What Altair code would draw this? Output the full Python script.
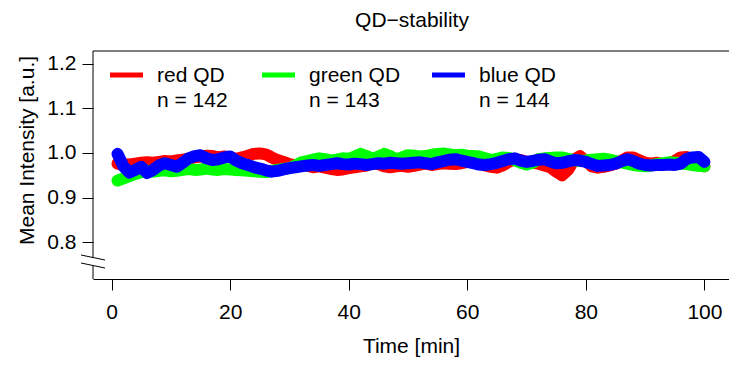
import altair as alt
import pandas as pd

# ---------------- data ----------------
minutes = list(range(1, 101))

red_qd = [0.976, 0.975, 0.974, 0.976, 0.978, 0.979, 0.978, 0.980, 0.982, 0.981,
          0.983, 0.985, 0.987, 0.990, 0.992, 0.994, 0.993, 0.990, 0.992, 0.990,
          0.987, 0.990, 0.994, 0.998, 0.999, 0.997, 0.990, 0.984, 0.980, 0.975,
          0.972, 0.976, 0.972, 0.968, 0.970, 0.967, 0.964, 0.962, 0.963, 0.966,
          0.968, 0.970, 0.972, 0.978, 0.975, 0.970, 0.968, 0.970, 0.971, 0.969,
          0.971, 0.974, 0.976, 0.973, 0.975, 0.977, 0.976, 0.975, 0.977, 0.980,
          0.985, 0.978, 0.972, 0.969, 0.967, 0.972, 0.980, 0.986, 0.984, 0.980,
          0.978, 0.976, 0.972, 0.968, 0.958, 0.950, 0.962, 0.985, 0.993, 0.982,
          0.970, 0.967, 0.969, 0.972, 0.976, 0.982, 0.990, 0.990, 0.984, 0.978,
          0.976, 0.978, 0.975, 0.977, 0.982, 0.990, 0.991, 0.985, 0.978, 0.970]

green_qd = [0.938, 0.943, 0.948, 0.953, 0.957, 0.960, 0.958, 0.960, 0.961, 0.959,
            0.960, 0.962, 0.964, 0.962, 0.963, 0.965, 0.963, 0.962, 0.964, 0.963,
            0.962, 0.961, 0.960, 0.959, 0.958, 0.957, 0.960, 0.962, 0.964, 0.966,
            0.972, 0.979, 0.982, 0.985, 0.988, 0.986, 0.983, 0.985, 0.988, 0.987,
            0.992, 0.998, 0.993, 0.987, 0.992, 0.998, 0.993, 0.986, 0.990, 0.995,
            0.994, 0.992, 0.993, 0.996, 0.998, 0.999, 0.997, 0.995, 0.996, 0.994,
            0.993, 0.992, 0.988, 0.984, 0.987, 0.990, 0.989, 0.984, 0.978, 0.974,
            0.978, 0.986, 0.988, 0.989, 0.990, 0.990, 0.987, 0.984, 0.982, 0.983,
            0.985, 0.986, 0.987, 0.985, 0.982, 0.979, 0.976, 0.973, 0.971, 0.970,
            0.972, 0.975, 0.977, 0.979, 0.978, 0.977, 0.975, 0.973, 0.971, 0.970]

blue_qd = [0.998, 0.970, 0.956, 0.962, 0.969, 0.955, 0.962, 0.972, 0.977, 0.973,
           0.969, 0.978, 0.988, 0.993, 0.995, 0.988, 0.984, 0.986, 0.990, 0.992,
           0.983, 0.977, 0.973, 0.968, 0.965, 0.961, 0.958, 0.960, 0.963, 0.966,
           0.968, 0.970, 0.972, 0.973, 0.971, 0.973, 0.975, 0.977, 0.975, 0.974,
           0.976, 0.975, 0.973, 0.975, 0.977, 0.976, 0.978, 0.977, 0.976, 0.977,
           0.978, 0.979, 0.977, 0.975, 0.979, 0.982, 0.985, 0.986, 0.983, 0.980,
           0.977, 0.974, 0.973, 0.975, 0.978, 0.982, 0.986, 0.988, 0.983, 0.980,
           0.982, 0.985, 0.986, 0.981, 0.977, 0.978, 0.981, 0.984, 0.983, 0.980,
           0.975, 0.971, 0.972, 0.973, 0.976, 0.981, 0.986, 0.982, 0.976, 0.973,
           0.972, 0.973, 0.973, 0.974, 0.973, 0.976, 0.987, 0.990, 0.991, 0.980]

series_names = ["red QD", "green QD", "blue QD"]
series_n = [142, 143, 144]
series_colors = ["#FF0000", "#00FF00", "#0000FF"]

x_ticks = [0, 20, 40, 60, 80, 100]
y_ticks = [0.8, 0.9, 1.0, 1.1, 1.2]
chart_title = "QD\u2212stability"

# ---------------- layout ----------------
W, H = 636, 228
FONT = "Liberation Sans"
FS = 21
legend_x = [17, 169, 339]          # px, left end of each legend line

xs = alt.Scale(domain=[-3.14, 104.15], nice=False, zero=False)
ys = alt.Scale(domain=[0.717, 1.229], nice=False, zero=False)

x_axis = alt.Axis(values=x_ticks, format="d", title="Time [min]",
                  tickSize=11, labelPadding=11, grid=False,
                  domain=True, domainColor="black", tickColor="black",
                  labelColor="black", titleColor="black",
                  labelFont=FONT, labelFontSize=FS, titleFont=FONT,
                  titleFontSize=FS, titleFontWeight="normal",
                  titleX=318, titleY=73, titleAlign="center",
                  titleBaseline="alphabetic", labelFlush=False,
                  labelOverlap=False)
y_axis = alt.Axis(values=y_ticks, format=".1f", title="Mean Intensity [a.u.]",
                  tickSize=11, labelPadding=6, grid=False, domain=False,
                  tickColor="black", labelColor="black", titleColor="black",
                  labelFont=FONT, labelFontSize=FS, titleFont=FONT,
                  titleFontSize=FS, titleFontWeight="normal",
                  titleAngle=270, titleX=-60, titleY=99, titleAlign="center",
                  titleBaseline="alphabetic", labelFlush=False,
                  labelOverlap=False)

layers = []
for name, vals, col in zip(series_names, [red_qd, green_qd, blue_qd], series_colors):
    df = pd.DataFrame({"t": minutes, "v": vals, "series": name})
    layers.append(
        alt.Chart(df).mark_line(color=col, strokeWidth=12, strokeCap="round",
                                strokeJoin="round").encode(
            x=alt.X("t:Q", scale=xs, axis=x_axis),
            y=alt.Y("v:Q", scale=ys, axis=y_axis),
        )
    )

one = alt.Data(values=[{"k": 1}])
frame_style = dict(color="black", strokeWidth=1)
top_line = alt.Chart(one).mark_rule(**frame_style).encode(
    x=alt.value(0), x2=alt.value(W), y=alt.value(0))
left_upper = alt.Chart(one).mark_rule(**frame_style).encode(
    x=alt.value(0), y=alt.value(0), y2=alt.value(207))
left_lower = alt.Chart(one).mark_rule(**frame_style).encode(
    x=alt.value(0), y=alt.value(215), y2=alt.value(H))
break1 = alt.Chart(one).mark_rule(**frame_style).encode(
    x=alt.value(-12), x2=alt.value(12), y=alt.value(204), y2=alt.value(209))
break2 = alt.Chart(one).mark_rule(**frame_style).encode(
    x=alt.value(-12), x2=alt.value(12), y=alt.value(212), y2=alt.value(217))

title_text = alt.Chart(alt.Data(values=[{"title": chart_title}])).mark_text(
    align="center", baseline="alphabetic", font=FONT, fontSize=FS,
    color="black").encode(x=alt.value(319), y=alt.value(-24.5), text="title:N")

legend_df = pd.DataFrame({
    "label": [f"{s}\nn = {n}" for s, n in zip(series_names, series_n)],
    "color": series_colors,
    "lx": legend_x,
})
legend_df["lx2"] = legend_df["lx"] + 33
legend_df["tx"] = legend_df["lx"] + 47

leg_lines = alt.Chart(legend_df).mark_rule(strokeWidth=5).encode(
    x=alt.X("lx:Q", scale=None), x2="lx2:Q", y=alt.value(24),
    color=alt.Color("color:N", scale=None))
leg_text = alt.Chart(legend_df).mark_text(
    align="left", baseline="alphabetic", font=FONT, fontSize=FS,
    lineBreak="\n", lineHeight=25.6, color="black").encode(
    x=alt.X("tx:Q", scale=None), y=alt.value(30.7), text="label:N")

chart = alt.layer(
    *layers, top_line, left_upper, left_lower, break1, break2,
    leg_lines, leg_text, title_text
).properties(
    width=W, height=H,
    padding={"left": 85, "top": 43, "right": 0, "bottom": 84},
    autosize=alt.AutoSizeParams(type="none"),
    background="white",
).configure_view(stroke=None)

chart.save("out.html", embed_options={"renderer": "svg", "actions": False})
